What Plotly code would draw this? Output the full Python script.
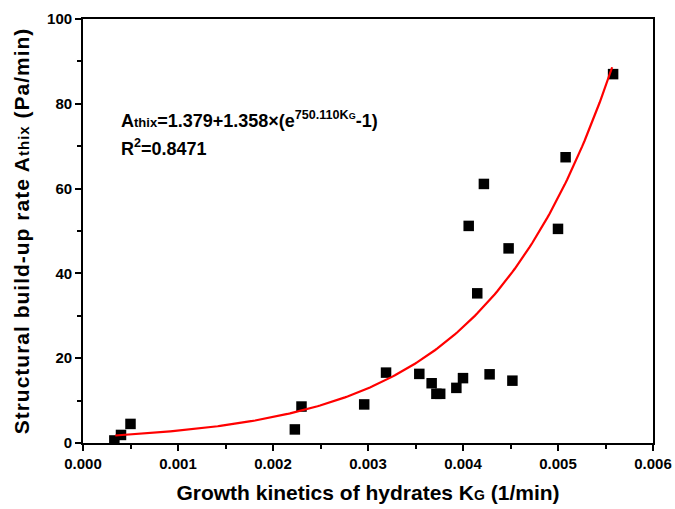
import numpy as np
import plotly.graph_objects as go

# Measured data points (K_G in 1/min, A_thix in Pa/min)
kg = [0.00033, 0.00040, 0.00050, 0.00223, 0.00230, 0.00296, 0.00319, 0.00354,
      0.00367, 0.00372, 0.00376, 0.00393, 0.00400, 0.00406, 0.00415, 0.00422,
      0.00428, 0.00448, 0.00452, 0.00500, 0.00508, 0.00558]
athix = [0.6, 1.9, 4.5, 3.2, 8.6, 9.1, 16.6, 16.3,
         14.1, 11.6, 11.6, 13.0, 15.3, 51.2, 35.3, 61.1,
         16.2, 45.9, 14.7, 50.5, 67.4, 87.0]

# Fit parameters shown on the chart
fit_a, fit_b, fit_k = 1.379, 1.358, 750.110
fit_x_range = [0.00034, 0.00557]

fx = np.linspace(fit_x_range[0], fit_x_range[1], 200)
fy = fit_a + fit_b * (np.exp(fit_k * fx) - 1)

FONT = "Liberation Sans, Arial, sans-serif"

fig = go.Figure()
fig.add_trace(go.Scatter(x=kg, y=athix, mode="markers",
                         marker=dict(symbol="square", size=10.5, color="black"),
                         showlegend=False))
fig.add_trace(go.Scatter(x=fx, y=fy, mode="lines",
                         line=dict(color="#ff0000", width=2.2), showlegend=False))

axis_common = dict(showline=True, linecolor="black", linewidth=1.8, mirror=True,
                   ticks="outside", ticklen=6, tickwidth=1.5, tickcolor="black",
                   showgrid=False, zeroline=False, automargin=False,
                   tickfont=dict(family=FONT, size=15, color="black", weight="bold"))

fig.update_xaxes(range=[0, 0.006], tickvals=[0, 0.001, 0.002, 0.003, 0.004, 0.005, 0.006],
                 ticktext=["0.000", "0.001", "0.002", "0.003", "0.004", "0.005", "0.006"],
                 minor=dict(tickvals=[0.0005, 0.0015, 0.0025, 0.0035, 0.0045, 0.0055],
                            ticks="outside", ticklen=4, tickwidth=1.5, tickcolor="black"),
                 title=dict(text='Growth kinetics of hydrates K<span style="font-size:14px">G</span> (1/min)',
                            font=dict(family=FONT, size=21, color="black", weight="bold"),
                            standoff=14),
                 **axis_common)
fig.update_yaxes(range=[0, 100], tickvals=[0, 20, 40, 60, 80, 100],
                 minor=dict(tickvals=[10, 30, 50, 70, 90],
                            ticks="outside", ticklen=4, tickwidth=1.5, tickcolor="black"),
                 title=dict(text='<span style="letter-spacing:1.0px">Structural build-up rate A<span style="font-size:15px">thix</span> (Pa/min)</span>',
                            font=dict(family=FONT, size=21, color="black", weight="bold"),
                            standoff=12),
                 **axis_common)

fig.add_annotation(x=0.000375, y=76.3, xref="x", yref="y", xanchor="left", yanchor="middle",
                   showarrow=False, align="left",
                   text='A<span style="font-size:13px">thix</span>=1.379+1.358×(e<sup>750.110K<span style="font-size:9px">G</span></sup>-1)',
                   font=dict(family=FONT, size=18, color="black", weight="bold"))
fig.add_annotation(x=0.000375, y=69.8, xref="x", yref="y", xanchor="left", yanchor="middle",
                   showarrow=False, align="left",
                   text='R<sup>2</sup>=0.8471',
                   font=dict(family=FONT, size=18, color="black", weight="bold"))

fig.update_layout(width=675, height=509, margin=dict(l=83, r=22, t=19, b=66),
                  plot_bgcolor="white", paper_bgcolor="white")

fig.write_html("out.html")
